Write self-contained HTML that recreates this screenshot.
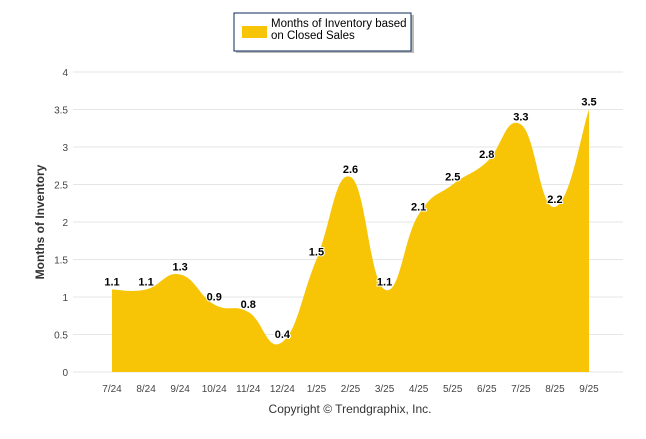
<!DOCTYPE html>
<html><head><meta charset="utf-8"><style>
body{margin:0;background:#fff;width:646px;height:434px;overflow:hidden;font-family:"Liberation Sans",sans-serif}
</style></head><body>
<svg width="646" height="434">
<g id="grid"></g>
<g id="area"></g>
<g id="labels"></g>
<g id="axes"></g>
<text x="44" y="222" transform="rotate(-90 44 222)" text-anchor="middle" font-size="12" font-weight="bold" fill="#333">Months of Inventory</text>
<text x="350" y="413" text-anchor="middle" font-size="12" fill="#333">Copyright © Trendgraphix, Inc.</text>
<g>
<rect x="236" y="15" width="178" height="38" fill="#777" opacity="0.5"/>
<rect x="234" y="13" width="177" height="38" fill="#fff" stroke="#0d2a5a" stroke-width="1"/>
<rect x="242" y="26" width="25" height="12" fill="#F7C406"/>
<text x="271" y="27" font-size="11.5" fill="#000"><tspan x="271">Months of Inventory based</tspan><tspan x="271" dy="12">on Closed Sales</tspan></text>
</g>
</svg>
<script>
const categories=["7/24","8/24","9/24","10/24","11/24","12/24","1/25","2/25","3/25","4/25","5/25","6/25","7/25","8/25","9/25"];
const values=[1.1,1.1,1.3,0.9,0.8,0.4,1.5,2.6,1.1,2.1,2.5,2.8,3.3,2.2,3.5];
const yTicks=[0,0.5,1,1.5,2,2.5,3,3.5,4];
const NS="http://www.w3.org/2000/svg";
const x0=112,x1=589,yBase=372,yTop=72,yMax=4;
const X=i=>x0+(x1-x0)*i/(categories.length-1);
const Y=v=>yBase-(yBase-yTop)*v/yMax;
function mk(t,a,p){const e=document.createElementNS(NS,t);for(const k in a)e.setAttribute(k,a[k]);p.appendChild(e);return e;}
const grid=document.getElementById('grid'),axes=document.getElementById('axes');
yTicks.forEach(v=>{
 const l=mk('line',{x1:73,x2:623,y1:Y(v),y2:Y(v),stroke:'#e6e6e6','stroke-width':1},grid);
 
 
 const t=mk('text',{x:68,y:Y(v)+4,'text-anchor':'end','font-size':10,fill:'#444'},axes);
 t.textContent=v;
 
 
});
categories.forEach((c,i)=>{
 const t=mk('text',{x:X(i),y:392,'text-anchor':'middle','font-size':10,fill:'#444'},axes);
 t.textContent=c;
 
 
});
const pts=values.map((v,i)=>[X(i),Y(v)]);
let d=`M${pts[0][0]},${yBase} L${pts[0][0]},${pts[0][1]}`;
const s=1.5;
for(let i=0;i<pts.length-1;i++){
 const p0=pts[Math.max(0,i-1)],p1=pts[i],p2=pts[i+1],p3=pts[Math.min(pts.length-1,i+2)];
 const c1=[p1[0]+(p2[0]-p0[0])/(3*s),p1[1]+(p2[1]-p0[1])/(3*s)];
 const c2=[p2[0]-(p3[0]-p1[0])/(3*s),p2[1]-(p3[1]-p1[1])/(3*s)];
 d+=` C${c1[0]},${c1[1]} ${c2[0]},${c2[1]} ${p2[0]},${p2[1]}`;
}
d+=` L${pts[pts.length-1][0]},${yBase} Z`;
const a=mk('path',{d:d,fill:'#F7C406'},document.getElementById('area'));


const lab=document.getElementById('labels');
values.forEach((v,i)=>{
 const t=mk('text',{x:X(i),y:Y(v)-4,'text-anchor':'middle','font-size':11,'font-weight':'bold',fill:'#000',stroke:'#fff','stroke-width':2,'paint-order':'stroke'},lab);
 t.textContent=v;
 
 
});
</script>
</body></html>
